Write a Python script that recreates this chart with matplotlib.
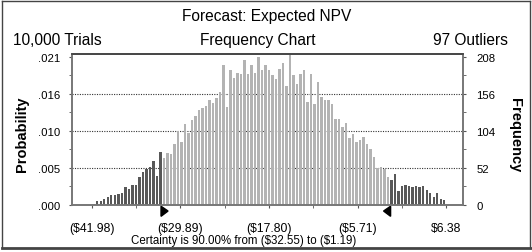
import matplotlib
matplotlib.use("Agg")
import matplotlib.pyplot as plt
import numpy as np
from matplotlib import font_manager
from matplotlib.lines import Line2D
from matplotlib.patches import Polygon
from matplotlib.transforms import blended_transform_factory

# frequency per bin (left to right)
freq = [
    1, 5, 5, 8, 11, 14, 14, 16, 17, 25, 22, 28, 28, 40, 47, 50, 54, 62, 41, 75,
    66, 73, 72, 85, 104, 88, 114, 101, 120, 125, 134, 136,
    139, 148, 143, 150, 159, 197, 137, 190, 179, 186, 184, 204, 184, 197, 185, 208, 190, 197, 190,
    182, 177, 191, 199, 167, 210, 182, 170, 184, 190, 145, 184, 142, 173, 152, 147, 147, 142,
    121, 121, 110, 115, 94, 99, 89, 91, 95, 85, 78, 67, 52, 53, 50, 39, 35,
    43, 19, 27, 28, 27, 25, 26, 25, 27, 21, 17, 11, 17, 8, 7,
]
x_low = -41.98
x_high = 6.38
x_labels = ["($41.98)", "($29.89)", "($17.80)", "($5.71)", "$6.38"]
cert_low = -32.55
cert_high = -1.19
cert_pct = 90.00
trials = 10000
outliers = 97
freq_ticks = [0, 52, 104, 156, 208]
prob_labels = [".000", ".005", ".010", ".016", ".021"]

W, H = 532, 253
LIGHT = "#b3b3b3"
DARK = "#585858"

plt.rcParams["font.family"] = ["Liberation Sans", "DejaVu Sans"]
names = {f.name for f in font_manager.fontManager.ttflist}
if "Liberation Sans Narrow" in names:
    label_font = dict(family="Liberation Sans Narrow", fontsize=12.5)
else:
    label_font = dict(family="Liberation Sans", fontsize=10.5)

fig = plt.figure(figsize=(W / 100, H / 100), dpi=100)
ax = fig.add_axes([72 / W, 1 - 206 / H, 391 / W, 151 / H])

edges = np.linspace(x_low, x_high, len(freq) + 1)
centers = (edges[:-1] + edges[1:]) / 2
step = edges[1] - edges[0]
dark = (centers < cert_low) | (centers > cert_high)
colors = [DARK if d else LIGHT for d in dark]
ax.bar(centers, freq, width=step * 0.7, color=colors, linewidth=0, zorder=2)

ax.set_xlim(-44.71, 8.70)
ax.set_ylim(0, 212)

for g in freq_ticks[1:-1]:
    ax.axhline(g, color="#333333", lw=0.8, ls=(0, (1, 1.2)), zorder=1)

ax.set_xticks(np.linspace(x_low, x_high, len(x_labels)))
ax.set_xticklabels(x_labels, fontsize=8.7)
ax.set_xticks(np.linspace(x_low, x_high, 2 * len(x_labels) - 1), minor=True)
ax.tick_params(axis="x", which="both", length=2.5, color="#555555", pad=10)

ax.set_yticks(freq_ticks)
ax.set_yticklabels(prob_labels, fontsize=8.2)
ax.set_yticks([26, 78, 130, 182], minor=True)
ax.tick_params(axis="y", which="both", length=2.5, color="#555555", pad=6)

ax2 = ax.twinx()
ax2.set_ylim(ax.get_ylim())
ax2.set_yticks(freq_ticks)
ax2.set_yticklabels([str(v) for v in freq_ticks], fontsize=8.2)
ax2.set_yticks([26, 78, 130, 182], minor=True)
ax2.tick_params(axis="y", which="both", length=2.5, color="#555555", pad=7)

for a in (ax, ax2):
    for side in ("left", "right", "bottom"):
        a.spines[side].set_color("#777777")
        a.spines[side].set_linewidth(1.2)
    a.spines["top"].set_color("#444444")
    a.spines["top"].set_linewidth(1.2)

# certainty markers below the axis
trans = blended_transform_factory(ax.transData, ax.transAxes)
tri_w = 0.96
ax.add_patch(Polygon([(cert_low, -0.008), (cert_low, -0.075), (cert_low + tri_w, -0.04)],
                     closed=True, color="black", transform=trans, clip_on=False))
ax.add_patch(Polygon([(cert_high, -0.008), (cert_high, -0.075), (cert_high - tri_w, -0.04)],
                     closed=True, color="black", transform=trans, clip_on=False))

fig.text(267 / W, 1 - 16 / H, "Forecast: Expected NPV", ha="center", va="center", fontsize=11.2)
fig.text(13 / W, 1 - 41 / H, "{:,} Trials".format(trials), ha="left", va="center", fontsize=11.2)
fig.text(258 / W, 1 - 41 / H, "Frequency Chart", ha="center", va="center", fontsize=11.2)
fig.text(508 / W, 1 - 41 / H, "{} Outliers".format(outliers), ha="right", va="center", fontsize=11.2)
fig.text(244 / W, 1 - 241 / H,
         r"Certainty is {:.2f}% from (\${:.2f}) to (\${:.2f})".format(cert_pct, -cert_low, -cert_high),
         ha="center", va="center", fontsize=8.3)
fig.text(22 / W, 1 - 134 / H, "Probability", rotation=90, ha="center", va="center",
         fontweight="bold", **label_font)
fig.text(515 / W, 1 - 135 / H, "Frequency", rotation=270, ha="center", va="center",
         fontweight="bold", **label_font)

# outer frame
px = lambda x, y: (x / W, 1 - y / H)
for (x0, y0), (x1, y1), lw in [((2, 2), (530, 2), 1.0), ((2, 2), (2, 249), 1.0),
                               ((530, 2), (530, 249), 1.0), ((2, 249), (532, 249), 2.0)]:
    p0, p1 = px(x0, y0), px(x1, y1)
    fig.add_artist(Line2D([p0[0], p1[0]], [p0[1], p1[1]], color="#444444", lw=lw,
                          transform=fig.transFigure))

fig.savefig("out.png", dpi=100)
